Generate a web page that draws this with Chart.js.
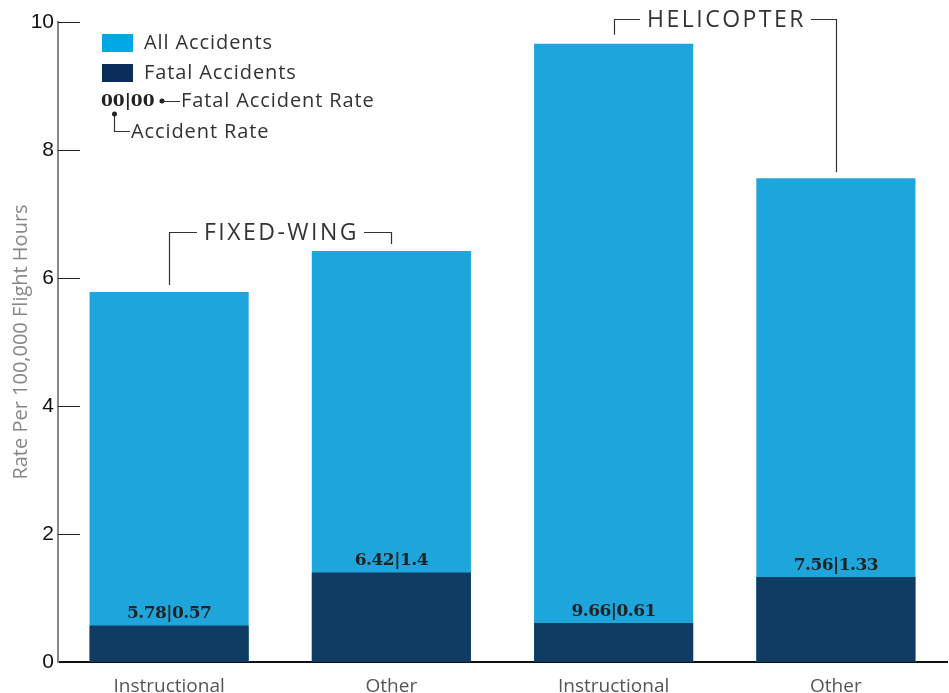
<!DOCTYPE html>
<html>
<head>
<meta charset="utf-8">
<script src="https://cdn.jsdelivr.net/npm/chart.js@4"></script>
<style>
  body { margin: 0; background: #fff; }
  canvas { display: block; }
</style>
</head>
<body>
<canvas id="rateChart" width="949" height="693"></canvas>
<script>
// Dữ liệu
var categories = ["Instructional", "Other", "Instructional", "Other"];
var groups = ["FIXED-WING", "HELICOPTER"];
var allRates = [5.78, 6.42, 9.66, 7.56];
var fatalRates = [0.57, 1.4, 0.61, 1.33];
var yTicks = [0, 2, 4, 6, 8, 10];

var lightBlue = "#1EA5DC";
var darkBlue = "#103C64";
var sansFont = "'Open Sans', sans-serif";

// vạch chia trục y vẽ vào trong vùng biểu đồ
var tickMarks = {
    id: "tickMarks",
    afterDraw: function (chart) {
        var ctx = chart.ctx;
        var y = chart.scales.y;
        var left = chart.chartArea.left;
        ctx.save();
        ctx.strokeStyle = "#222";
        ctx.lineWidth = 1;
        yTicks.forEach(function (v) {
            var py = Math.round(y.getPixelForValue(v)) + 0.5;
            if (v === 0) return;
            ctx.beginPath();
            ctx.moveTo(left, py);
            ctx.lineTo(left + 22, py);
            ctx.stroke();
        });
        ctx.restore();
    },
};

// nhãn giá trị trên cột
var rateLabels = {
    id: "rateLabels",
    afterDatasetsDraw: function (chart) {
        var ctx = chart.ctx;
        var meta = chart.getDatasetMeta(0);
        ctx.save();
        ctx.font = "bold 17px 'DejaVu Serif', serif";
        ctx.letterSpacing = "-0.5px";
        ctx.fillStyle = "#222";
        ctx.textAlign = "center";
        ctx.textBaseline = "bottom";
        meta.data.forEach(function (bar, i) {
            ctx.fillText(allRates[i] + "|" + fatalRates[i], bar.x, bar.y - 3);
        });
        ctx.restore();
    },
};

// chú thích nhóm + chú giải
var annotations = {
    id: "annotations",
    afterDraw: function (chart) {
        var ctx = chart.ctx;
        var x = chart.scales.x;
        var y = chart.scales.y;
        ctx.save();
        ctx.strokeStyle = "#333";
        ctx.lineWidth = 1.2;
        ctx.fillStyle = "#333";
        ctx.font = "23px " + sansFont;
        ctx.letterSpacing = "2.5px";
        ctx.textBaseline = "middle";

        function bracket(label, i0, i1, lineY, gap) {
            var x0 = Math.round(x.getPixelForValue(i0)) + 0.5;
            var x1 = Math.round(x.getPixelForValue(i1)) + 0.5;
            var y0 = y.getPixelForValue(allRates[i0]) - gap[0];
            var y1 = y.getPixelForValue(allRates[i1]) - gap[1];
            var mid = (x0 + x1) / 2;
            var w = ctx.measureText(label).width;
            ctx.beginPath();
            ctx.moveTo(x0, y0);
            ctx.lineTo(x0, lineY);
            ctx.lineTo(mid - w / 2 - 6, lineY);
            ctx.moveTo(mid + w / 2 + 6, lineY);
            ctx.lineTo(x1, lineY);
            ctx.lineTo(x1, y1);
            ctx.stroke();
            ctx.textAlign = "center";
            ctx.fillText(label, mid + 1, lineY + 1);
        }
        bracket(groups[0], 0, 1, 232.5, [7, 7]);
        bracket(groups[1], 2, 3, 19.5, [9, 6]);

        // chú giải
        ctx.textAlign = "left";
        ctx.letterSpacing = "0.9px";
        ctx.font = "20px " + sansFont;
        ctx.fillStyle = "#00A8E6";
        ctx.fillRect(102, 34, 31, 18);
        ctx.fillStyle = "#0A2D5A";
        ctx.fillRect(102, 64, 31, 18);
        ctx.fillStyle = "#333";
        ctx.fillText("All Accidents", 144, 43);
        ctx.fillText("Fatal Accidents", 144, 73);
        ctx.fillText("Fatal Accident Rate", 181, 101);
        ctx.fillText("Accident Rate", 131, 132);

        ctx.font = "bold 17px 'DejaVu Serif', serif";
        ctx.letterSpacing = "0px";
        ctx.fillStyle = "#222";
        ctx.fillText("00|00", 101, 102);
        ctx.beginPath();
        ctx.arc(162, 101, 2.5, 0, Math.PI * 2);
        ctx.arc(114.5, 114, 2.5, 0, Math.PI * 2);
        ctx.fill();
        ctx.beginPath();
        ctx.moveTo(162, 101.5);
        ctx.lineTo(180, 101.5);
        ctx.moveTo(114.5, 114);
        ctx.lineTo(114.5, 131.5);
        ctx.lineTo(130, 131.5);
        ctx.stroke();
        ctx.restore();
    },
};

var ctx = document.getElementById("rateChart").getContext("2d");
new Chart(ctx, {
    type: "bar",
    data: {
        labels: categories,
        datasets: [
            {
                label: "Fatal Accidents",
                data: fatalRates,
                backgroundColor: darkBlue,
                barPercentage: 0.716,
                categoryPercentage: 1,
            },
            {
                label: "All Accidents",
                data: allRates,
                backgroundColor: lightBlue,
                barPercentage: 0.716,
                categoryPercentage: 1,
            },
        ],
    },
    options: {
        responsive: false,
        animation: false,
        layout: { padding: { top: 22, right: 2, left: 0, bottom: 0 } },
        plugins: {
            legend: { display: false },
            tooltip: { enabled: false },
        },
        scales: {
            x: {
                stacked: true,
                grid: { display: false },
                border: { color: "#111", width: 2 },
                ticks: {
                    color: "#555",
                    font: { family: sansFont, size: 19 },
                    padding: 5,
                },
                afterFit: function (s) { s.height = 31; },
            },
            y: {
                stacked: false,
                min: 0,
                max: 10,
                grid: { display: false, drawTicks: false },
                border: { color: "#888", width: 2 },
                afterBuildTicks: function (s) {
                    s.ticks = yTicks.map(function (v) { return { value: v }; });
                },
                ticks: {
                    color: "#111",
                    font: { family: "'Liberation Sans', sans-serif", size: 21 },
                    padding: 4,
                },
                title: {
                    display: true,
                    text: "Rate Per 100,000 Flight Hours",
                    color: "#888",
                    font: { family: sansFont, size: 20 },
                    padding: { top: 9, bottom: 0 },
                },
                afterFit: function (s) { s.width = 58; },
            },
        },
    },
    plugins: [tickMarks, rateLabels, annotations],
});
</script>
</body>
</html>
